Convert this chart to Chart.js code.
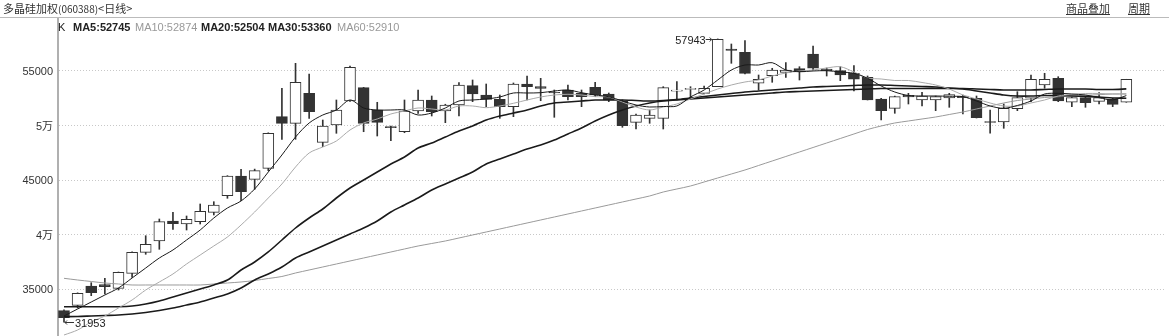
<!DOCTYPE html>
<html lang="zh">
<head>
  <meta charset="UTF-8" />
  <title>多晶硅加权(060388)&lt;日线&gt;</title>
  <script src="https://cdn.jsdelivr.net/npm/chart.js"></script>
  <style>
    body {
      margin: 0;
      background: #fff;
      font-family: 'Liberation Sans', Arial, sans-serif;
      color: #333;
    }

    .wrap {
      position: relative;
      width: 1169px;
      height: 336px;
      overflow: hidden;
    }

    canvas {
      position: absolute;
      left: 0;
      top: 0;
    }

    .title {
      position: absolute;
      left: 3px;
      top: 1px;
      font-size: 11px;
      line-height: 14px;
      font-family: 'Noto Sans CJK SC', sans-serif;
      color: #333;
    }

    .title small {
      font-size: 10px;
    }

    .link {
      position: absolute;
      top: 1px;
      font-size: 11px;
      line-height: 14px;
      font-family: 'Noto Sans CJK SC', sans-serif;
      text-decoration: underline;
      color: #333;
    }

    .rule {
      position: absolute;
      left: 0;
      top: 17px;
      width: 1169px;
      height: 1px;
      background: #bbb;
    }

    .legend span {
      position: absolute;
      top: 20px;
      font-size: 11px;
      line-height: 14px;
      white-space: nowrap;
    }

    .legend .b { font-weight: bold; color: #222; }
    .legend .g { color: #999; }
  </style>
</head>
<body>
  <div class="wrap">
    <canvas id="kChart" width="1169" height="336"></canvas>
    <div class="title">多晶硅加权<small>(060388)</small>&lt;日线&gt;</div>
    <div class="link" style="left:1066px">商品叠加</div>
    <div class="link" style="left:1128px">周期</div>
    <div class="rule"></div>
    <div class="legend" id="legend"></div>
  </div>

  <script>
    // daily candles (oldest first)
    const open = [33010, 33505, 35276, 35395, 35065, 36441, 38367, 39404, 41239, 40964,
      41175, 42037, 43560, 45367, 45064, 46074, 50807, 50202, 52954, 48459,
      50046, 52248, 53468, 51422, 49890, 49431, 51330, 52340, 51330, 51881,
      53651, 52798, 52404, 51725, 53807, 53560, 53050, 53257, 52954, 53505,
      52890, 52248, 50294, 50661, 50661, 53138, 53321, 52954, 53560, 57018,
      56716, 53872, 54569, 54881, 55211, 56560, 55183, 55028, 54789, 54422,
      52431, 51578, 52771, 52340, 52340, 52523, 52707, 52496, 50349, 50321,
      51541, 52496, 53716, 54330, 52129, 52551, 52220, 52404, 52129];
    const high = [33100, 34650, 35579, 35982, 36560, 38400, 39890, 41423, 42037, 41698,
      42799, 43010, 45400, 45982, 46000, 49330, 53413, 55706, 54725, 50505,
      52340, 55459, 53500, 52129, 49950, 52340, 53257, 52707, 51950, 53927,
      54174, 53807, 52798, 53900, 54541, 54330, 53257, 53716, 53257, 53963,
      52982, 52340, 51055, 51422, 53560, 54018, 53560, 53624, 57943, 57477,
      57780, 54633, 55248, 55761, 55394, 57294, 55275, 55394, 55486, 54541,
      52500, 52700, 52954, 53046, 52707, 52954, 52800, 52707, 51422, 51973,
      53101, 54633, 54789, 54477, 52600, 52707, 53010, 52500, 54239];
    const low = [31953, 33258, 34386, 34542, 34909, 36074, 38184, 38643, 40478, 40413,
      40964, 41790, 43322, 43102, 44147, 45853, 48734, 48734, 50661, 48055,
      49285, 52200, 49431, 49037, 48606, 49339, 51119, 50872, 50257, 50872,
      52184, 51725, 50661, 50808, 52340, 52275, 50753, 52340, 51725, 52643,
      52184, 49835, 49679, 50202, 49679, 52340, 52431, 52890, 53560, 55706,
      54725, 53257, 53963, 54422, 54174, 55092, 54541, 54110, 53165, 52340,
      50505, 51119, 51973, 51789, 51358, 51670, 51055, 50688, 49285, 49743,
      51358, 52184, 53413, 52184, 51725, 51670, 51973, 51725, 52129];
    const close = [32370, 34606, 34661, 35212, 36533, 38367, 39101, 41175, 40991, 41395,
      42129, 42707, 45367, 43927, 45853, 49285, 50202, 53963, 51266, 49954,
      51422, 55339, 50202, 50294, 49798, 51330, 52340, 51266, 51881, 53716,
      52890, 52404, 51725, 53807, 53560, 53413, 53000, 52643, 52643, 52798,
      52340, 49982, 50964, 50964, 53468, 53257, 53413, 53413, 57900, 56899,
      54789, 54239, 55092, 55092, 54908, 55248, 55028, 54633, 54239, 52340,
      51358, 52643, 52615, 52707, 52643, 52826, 52551, 50716, 50294, 51578,
      52551, 54239, 54239, 52248, 52551, 52092, 52551, 51945, 54239];

    // moving averages
    const ma5 = [32524, 33166, 33808, 34450, 35092, 36010, 36927, 37845, 38579, 39496,
      40413, 41514, 42432, 43074, 44175, 45734, 47294, 48945, 50230, 50963,
      51422, 52340, 51606, 51422, 51422, 51422, 50963, 51147, 51606, 52248,
      52340, 52431, 52615, 52982, 52982, 53009, 53165, 53257, 53009, 52798,
      52642, 52248, 51881, 51697, 51743, 51789, 52615, 53257, 54174, 55092,
      55550, 55550, 55761, 55092, 54936, 55000, 55028, 54908, 54789, 54330,
      53624, 53073, 52752, 52707, 52707, 52679, 52642, 52248, 51789, 51578,
      51835, 52248, 52890, 52954, 52890, 52800, 52550, 52350, 52745];
    const ma10 = [30781, 31240, 31974, 32524, 33258, 33992, 34909, 35643, 36377, 37295,
      38120, 38946, 39772, 40872, 42065, 43349, 44634, 46193, 47478, 48028,
      48579, 49588, 50230, 50597, 51056, 51331, 51606, 51514, 51423, 51790,
      51790, 51634, 51790, 52037, 52340, 52615, 52799, 52863, 52799, 52643,
      52615, 52157, 51698, 51423, 51698, 51973, 52432, 52890, 53349, 53716,
      53991, 54175, 54542, 54817, 55000, 55092, 55276, 55395, 54909, 54358,
      54267, 54129, 54129, 53945, 53716, 53349, 52799, 52432, 52065, 51790,
      51790, 52065, 52340, 52707, 52845, 52936, 52936, 52890, 52874];
    const ma20 = [33377, 33377, 33377, 33377, 33377, 33442, 33625, 33900, 34267, 34634,
      35001, 35368, 35827, 36744, 37478, 38396, 39496, 40597, 41515, 42340,
      43349, 44267, 45001, 45735, 46469, 47111, 47936, 48395, 48946, 49496,
      49955, 50505, 50872, 51147, 51423, 51790, 52065, 52157, 52248, 52340,
      52340, 52340, 52294, 52248, 52294, 52386, 52523, 52661, 52799, 52936,
      53074, 53165, 53257, 53349, 53441, 53532, 53578, 53624, 53670, 53716,
      53716, 53670, 53624, 53578, 53532, 53441, 53349, 53165, 52982, 52799,
      52707, 52707, 52753, 52753, 52707, 52661, 52615, 52523, 52504];
    const ma30 = [32460, 32478, 32524, 32570, 32616, 32708, 32845, 33029, 33258, 33533,
      33809, 34175, 34542, 35093, 35827, 36377, 37019, 37845, 38396, 38946,
      39496, 40047, 40597, 41239, 42065, 42707, 43349, 44083, 44634, 45184,
      45735, 46469, 46927, 47386, 47845, 48212, 48670, 49221, 49771, 50413,
      50964, 51423, 51790, 52065, 52248, 52340, 52432, 52523, 52615, 52707,
      52799, 52890, 52982, 53074, 53120, 53165, 53211, 53257, 53303, 53349,
      53395, 53395, 53395, 53395, 53395, 53395, 53395, 53349, 53303, 53257,
      53257, 53257, 53303, 53349, 53349, 53349, 53303, 53303, 53360];
    const ma60 = [35982, 35827, 35689, 35552, 35460, 35368, 35368, 35368, 35368, 35368,
      35368, 35460, 35552, 35643, 35781, 35964, 36148, 36469, 36744, 37019,
      37295, 37570, 37845, 38120, 38396, 38671, 38946, 39175, 39405, 39680,
      39955, 40230, 40506, 40781, 41056, 41331, 41606, 41882, 42157, 42432,
      42707, 42983, 43258, 43533, 43900, 44175, 44450, 44817, 45184, 45551,
      45918, 46331, 46744, 47157, 47570, 47982, 48395, 48808, 49221, 49634,
      49955, 50230, 50413, 50597, 50780, 51010, 51239, 51514, 51790, 52065,
      52294, 52432, 52569, 52643, 52707, 52771, 52826, 52890, 52910];

    const tickValues = [35000, 40000, 45000, 50000, 55000];
    const tickLabels = ['35000', '4万', '45000', '5万', '55000'];

    const maNames = ['MA5', 'MA10', 'MA20', 'MA30', 'MA60'];
    const maSeries = [ma5, ma10, ma20, ma30, ma60];
    const maColors = ['#1a1a1a', '#aaaaaa', '#1a1a1a', '#1a1a1a', '#9a9a9a'];
    const maWidths = [1, 1, 1.6, 1.6, 1];

    // legend row
    const legend = document.getElementById('legend');
    const legendLeft = [58, 73, 135, 201, 268, 337];
    const k = document.createElement('span');
    k.textContent = 'K';
    k.style.left = legendLeft[0] + 'px';
    k.style.color = '#222';
    legend.appendChild(k);
    maNames.forEach((name, i) => {
      const s = document.createElement('span');
      const series = maSeries[i];
      s.textContent = name + ':' + series[series.length - 1];
      s.className = (i === 1 || i === 4) ? 'g' : 'b';
      s.style.left = legendLeft[i + 1] + 'px';
      legend.appendChild(s);
    });

    const idx = close.map((c, i) => i + 1);
    const upDown = close.map((c, i) => c >= open[i]);

    const lineSets = maSeries.map((series, i) => ({
      type: 'line',
      label: maNames[i],
      data: series.map((v, j) => ({ x: idx[j], y: v })),
      borderColor: maColors[i],
      borderWidth: maWidths[i],
      pointRadius: 0,
      tension: 0.3,
      order: 0
    }));

    // y tick labels plus the high / low markers
    const markers = {
      id: 'markers',
      afterDatasetsDraw(chart) {
        const { ctx, scales: { x, y } } = chart;
        ctx.save();
        ctx.fillStyle = '#333';
        ctx.textBaseline = 'middle';
        ctx.textAlign = 'right';
        ctx.font = "11px 'Liberation Sans', Arial, 'Noto Sans CJK SC', sans-serif";
        tickValues.forEach((v, i) => {
          ctx.fillText(tickLabels[i], 53, y.getPixelForValue(v) + 1);
        });

        const hi = high.indexOf(Math.max(...high));
        const lo = low.indexOf(Math.min(...low));
        ctx.font = "11px 'Liberation Sans', Arial, sans-serif";
        ctx.fillStyle = '#222';
        ctx.strokeStyle = '#333';
        ctx.lineWidth = 1;

        const hx = x.getPixelForValue(idx[hi]);
        const hy = Math.round(y.getPixelForValue(high[hi])) + 0.5;
        ctx.beginPath();
        ctx.moveTo(hx - 12, hy);
        ctx.lineTo(hx - 6, hy);
        ctx.moveTo(hx - 8, hy - 2);
        ctx.lineTo(hx - 6, hy);
        ctx.lineTo(hx - 8, hy + 2);
        ctx.stroke();
        ctx.textAlign = 'right';
        ctx.fillText(String(high[hi]), hx - 12, hy + 1);

        const lx = x.getPixelForValue(idx[lo]);
        const ly = Math.round(y.getPixelForValue(low[lo])) + 0.5;
        ctx.beginPath();
        ctx.moveTo(lx + 1, ly);
        ctx.lineTo(lx + 10, ly);
        ctx.moveTo(lx + 3, ly - 2);
        ctx.lineTo(lx + 1, ly);
        ctx.lineTo(lx + 3, ly + 2);
        ctx.stroke();
        ctx.textAlign = 'left';
        ctx.fillText(String(low[lo]), lx + 11, ly + 1);
        ctx.restore();
      }
    };

    new Chart(document.getElementById('kChart'), {
      type: 'bar',
      data: {
        datasets: [
          {
            label: 'wick',
            data: low.map((l, i) => ({ x: idx[i], y: [l, high[i]] })),
            backgroundColor: '#333',
            borderWidth: 0,
            barThickness: 1,
            grouped: false,
            order: 2
          },
          {
            label: 'K',
            data: open.map((o, i) => ({ x: idx[i], y: [o, close[i]] })),
            backgroundColor: upDown.map(u => u ? '#ffffff' : '#333333'),
            borderColor: '#333',
            borderWidth: 1,
            borderSkipped: false,
            barThickness: 11,
            grouped: false,
            order: 1
          },
          ...lineSets
        ]
      },
      options: {
        responsive: false,
        animation: false,
        layout: {
          padding: { top: 18, right: 4, bottom: 0, left: 0 }
        },
        plugins: {
          legend: { display: false },
          tooltip: { enabled: false }
        },
        scales: {
          x: {
            type: 'linear',
            min: 0.56,
            max: 81.84,
            offset: false,
            display: false
          },
          y: {
            min: 30689,
            max: 59862,
            afterFit: scale => { scale.width = 58; },
            afterBuildTicks: scale => {
              scale.ticks = tickValues.map(v => ({ value: v }));
            },
            ticks: { display: false },
            grid: {
              color: '#c8c8c8',
              drawTicks: false
            },
            border: {
              display: true,
              color: '#b0b0b0',
              width: 2,
              dash: [1, 2]
            }
          }
        }
      },
      plugins: [markers]
    });
  </script>
</body>
</html>
